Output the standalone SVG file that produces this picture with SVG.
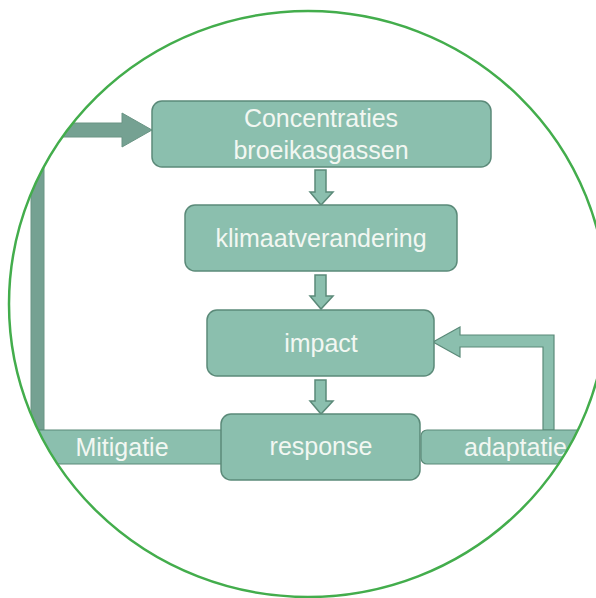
<svg xmlns="http://www.w3.org/2000/svg" width="596" height="598" viewBox="0 0 596 598">
<style>
.box{fill:#8bbfae;stroke:#5b8a79;stroke-width:1.5}
.bar{fill:#8bbfae;stroke:#5b8a79;stroke-width:1.2}
.dark{fill:#75a192;stroke:#6a9484;stroke-width:1}
.t{font-family:"Liberation Sans",Arial,sans-serif;font-size:25px;fill:#f2f7f2;text-anchor:middle}
</style>
<defs>
<clipPath id="c"><ellipse cx="308" cy="304" rx="299" ry="293"/></clipPath>
</defs>
<rect width="596" height="598" fill="#ffffff"/>
<g clip-path="url(#c)">
<g id="connectors">
<path class="dark" d="M31,430 L31,123 L122,123 L122,113 L152,130 L122,147 L122,137 L44,137 L44,430 Z"/>
<path class="bar" d="M554,430 L554,335 L460,335 L460,327 L433,342 L460,357 L460,347 L543,347 L543,430 Z"/>
<path class="box" d="M315,170 L326,170 L326,192 L333,192 L321,205 L310,192 L315,192 Z"/>
<path class="box" d="M315,275 L326,275 L326,296 L333,296 L321,309 L310,296 L315,296 Z"/>
<path class="box" d="M315,380 L326,380 L326,401 L333,401 L321,414 L310,401 L315,401 Z"/>
</g>
<g id="mitigatie">
<rect class="bar" x="0" y="430" width="228" height="34" rx="6"/>
<text class="t" x="122" y="456">Mitigatie</text>
</g>
<g id="adaptatie">
<rect class="bar" x="421" y="430" width="200" height="34" rx="6"/>
<text class="t" x="464" y="456" style="text-anchor:start">adaptatie</text>
</g>
<g id="concentraties">
<rect class="box" x="152" y="101" width="339" height="66" rx="10"/>
<text class="t" x="321" y="127">Concentraties</text>
<text class="t" x="321" y="159">broeikasgassen</text>
</g>
<g id="klimaatverandering">
<rect class="box" x="185" y="205" width="272" height="66" rx="10"/>
<text class="t" x="321" y="247">klimaatverandering</text>
</g>
<g id="impact">
<rect class="box" x="207" y="310" width="227" height="66" rx="10"/>
<text class="t" x="321" y="352">impact</text>
</g>
<g id="response">
<rect class="box" x="221" y="414" width="199" height="66" rx="10"/>
<text class="t" x="321" y="455">response</text>
</g>
</g>
<ellipse cx="308" cy="304" rx="299" ry="293" fill="none" stroke="#43ad4c" stroke-width="2.5"/>
</svg>
